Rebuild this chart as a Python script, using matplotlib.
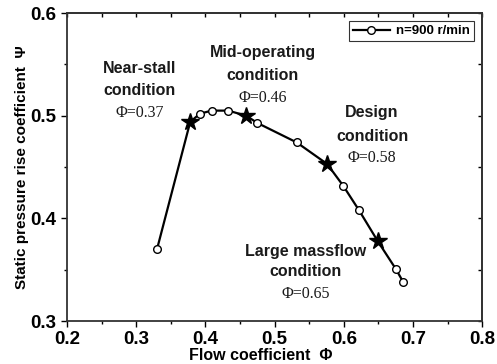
import numpy as np
import matplotlib.pyplot as plt
from matplotlib.ticker import MultipleLocator

# 静压升系数特性曲线 n=900 r/min
phi = [0.330, 0.378, 0.392, 0.409, 0.433, 0.459, 0.475, 0.532, 0.576, 0.599, 0.622, 0.649, 0.675, 0.686]
psi = [0.370, 0.494, 0.502, 0.505, 0.505, 0.500, 0.493, 0.474, 0.453, 0.432, 0.408, 0.378, 0.351, 0.338]
# 四个典型工况点
star_phi = [0.378, 0.459, 0.576, 0.649]
star_psi = [0.494, 0.500, 0.453, 0.378]

sans = ['Liberation Sans', 'DejaVu Sans']
serif = ['Liberation Serif', 'DejaVu Serif']
plt.rcParams['font.family'] = sans

fig = plt.figure(figsize=(4.97, 3.64), dpi=100)
ax = fig.add_axes([0.135, 0.118, 0.835, 0.846])

circ_phi = [p for p in phi if p not in star_phi]
circ_psi = [s for p, s in zip(phi, psi) if p not in star_phi]
ax.plot(phi, psi, color='black', lw=1.6, zorder=2)
ax.plot(circ_phi, circ_psi, 'o', mfc='white', mec='black', ms=5.5, mew=1.0, zorder=3)
ax.plot(star_phi, star_psi, '*', color='black', ms=13, zorder=4)

# 图例
ax.plot([], [], '-o', color='black', mfc='white', mec='black', ms=5.5, lw=1.6, label='n=900 r/min')
leg = ax.legend(loc='upper right', frameon=True, fancybox=False,
                edgecolor='black', handlelength=2.8, borderpad=0.3, handletextpad=0.5,
                borderaxespad=0.6, prop={'weight': 'bold', 'size': 9.5})
leg.get_frame().set_linewidth(0.8)

ax.set_xlim(0.2, 0.8)
ax.set_ylim(0.3, 0.6)
for axis in (ax.xaxis, ax.yaxis):
    axis.set_major_locator(MultipleLocator(0.1))
    axis.set_minor_locator(MultipleLocator(0.05))
ax.tick_params(which='both', direction='out', width=1.0, labelsize=13.5)
ax.tick_params(which='major', length=4)
ax.tick_params(which='minor', length=2)
for lab in ax.get_xticklabels() + ax.get_yticklabels():
    lab.set_fontweight('bold')

# 上、右边框的刻度朝内，不显示标签
top = ax.secondary_xaxis('top')
top.xaxis.set_major_locator(MultipleLocator(0.1))
top.xaxis.set_minor_locator(MultipleLocator(0.05))
right = ax.secondary_yaxis('right')
right.yaxis.set_major_locator(MultipleLocator(0.1))
right.yaxis.set_minor_locator(MultipleLocator(0.05))
for sec in (top, right):
    sec.tick_params(which='both', direction='in', width=1.0, length=3,
                    labeltop=False, labelright=False)
for s in list(ax.spines.values()) + [top.spines['top'], right.spines['right']]:
    s.set_linewidth(1.3)
    s.set_color('#333333')

ax.set_xlabel('Flow coefficient  \u03a6', fontsize=11.5, fontweight='bold', labelpad=0, x=0.467)
ax.set_ylabel('Static pressure rise coefficient  \u03a8', fontsize=11, fontweight='bold', labelpad=1)

# 工况标注
notes = [
    (0.305, ['Near-stall', 'condition'], [0.546, 0.525], 'Φ=0.37', 0.503),
    (0.483, ['Mid-operating', 'condition'], [0.562, 0.539], 'Φ=0.46', 0.517),
    (0.641, ['Design', 'condition'], [0.503, 0.480], 'Φ=0.58', 0.459),
    (0.545, ['Large massflow', 'condition'], [0.368, 0.348], 'Φ=0.65', 0.326),
]
for x, lines, ys, phi_txt, yp in notes:
    for t, y in zip(lines, ys):
        ax.text(x, y, t, ha='center', va='center', fontsize=11.5, fontweight='bold', color='#1a1a1a')
    ax.text(x, yp, phi_txt, ha='center', va='center', fontsize=11.5, family=serif, color='#1a1a1a')

fig.savefig('out.png', dpi=100)
